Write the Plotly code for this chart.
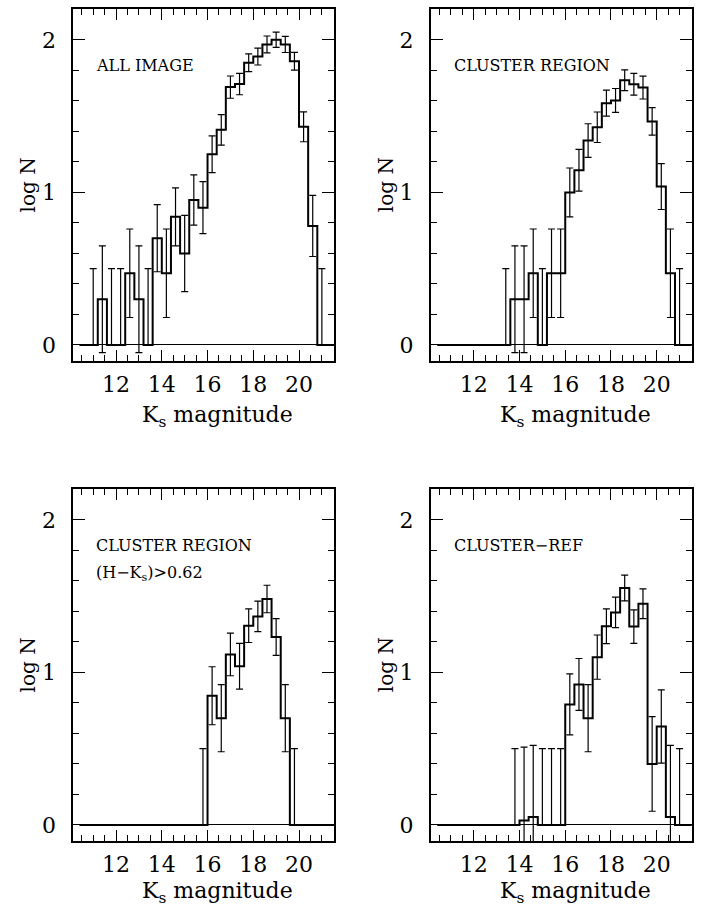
import plotly.graph_objects as go

# Ks bin centres (0.4 mag bins)
ks_bins = [10.6, 11.0, 11.4, 11.8, 12.2, 12.6, 13.0, 13.4, 13.8, 14.2,
           14.6, 15.0, 15.4, 15.8, 16.2, 16.6, 17.0, 17.4, 17.8, 18.2,
           18.6, 19.0, 19.4, 19.8, 20.2, 20.6, 21.0, 21.4]
bin_half = 0.2

# log N per bin and its error (None = no error bar drawn)
all_image_logn = [0, 0, 0.30, 0, 0, 0.47, 0.30, 0, 0.70, 0.47,
                  0.84, 0.60, 0.95, 0.90, 1.25, 1.41, 1.69, 1.71, 1.85, 1.89,
                  1.97, 2.00, 1.97, 1.86, 1.43, 0.78, 0, 0]
all_image_err = [None, 0.5, 0.35, 0.5, 0.5, 0.29, 0.35, 0.5, 0.22, 0.29,
                 0.19, 0.25, 0.165, 0.17, 0.12, 0.10, 0.073, 0.07, 0.058, 0.055,
                 0.055, 0.05, 0.053, 0.058, 0.098, 0.20, 0.5, None]

cluster_logn = [0, 0, 0, 0, 0, 0, 0, 0, 0.30, 0.30,
                0.47, 0, 0.47, 0.47, 1.00, 1.145, 1.34, 1.427, 1.585, 1.603,
                1.735, 1.709, 1.687, 1.465, 1.038, 0.47, 0, 0]
cluster_err = [None, None, None, None, None, None, None, 0.5, 0.35, 0.35,
               0.29, 0.5, 0.29, 0.29, 0.16, 0.137, 0.11, 0.10, 0.085, 0.078,
               0.068, 0.071, 0.075, 0.09, 0.15, 0.29, 0.5, None]

red_logn = [0, 0, 0, 0, 0, 0, 0, 0, 0, 0,
            0, 0, 0, 0, 0.847, 0.70, 1.118, 1.04, 1.306, 1.367,
            1.481, 1.232, 0.70, 0, 0, 0, 0, 0]
red_err = [None, None, None, None, None, None, None, None, None, None,
           None, None, None, 0.5, 0.19, 0.22, 0.14, 0.15, 0.11, 0.10,
           0.09, 0.12, 0.22, 0.5, None, None, None, None]

ref_logn = [0, 0, 0, 0, 0, 0, 0, 0, 0, 0.03,
            0.052, 0, 0, 0, 0.79, 0.921, 0.70, 1.10, 1.302, 1.393,
            1.553, 1.30, 1.45, 0.40, 0.646, 0.052, 0, 0]
ref_err = [None, None, None, None, None, None, None, None, 0.5, 0.48,
           0.47, 0.5, 0.5, 0.5, 0.20, 0.17, 0.22, 0.145, 0.114, 0.10,
           0.084, 0.11, 0.097, 0.31, 0.24, 0.47, 0.5, None]

panels = [
    (["ALL IMAGE"], all_image_logn, all_image_err),
    (["CLUSTER REGION"], cluster_logn, cluster_err),
    (["CLUSTER REGION", "(H\u2212K<sub>s</sub>)>0.62"], red_logn, red_err),
    (["CLUSTER\u2212REF"], ref_logn, ref_err),
]

W, H = 705, 908
x_doms = [(73.3, 334.0), (431.0, 691.7)]
y_doms = [(9.3, 361.0), (489.3, 841.0)]
title_gap = [56, 51]
x_range = [10.13, 21.53]
y_range = [-0.105, 2.2]

serif = "DejaVu Serif"
fig = go.Figure()
layout = dict(width=W, height=H, margin=dict(l=0, r=0, t=0, b=0),
              paper_bgcolor="white", plot_bgcolor="white", showlegend=False)
annotations = []

for i, (labels, logn, err) in enumerate(panels):
    row, col = divmod(i, 2)
    x0, x1 = x_doms[col]
    ytop, ybot = y_doms[row]
    n = i + 1
    xa = "xaxis" if n == 1 else f"xaxis{n}"
    ya = "yaxis" if n == 1 else f"yaxis{n}"
    xr = "x" if n == 1 else f"x{n}"
    yr = "y" if n == 1 else f"y{n}"

    axis_common = dict(showline=True, linecolor="black", linewidth=2,
                       mirror="allticks", ticks="inside", tickcolor="black",
                       tickwidth=1.3, showgrid=False,
                       tickfont=dict(family=serif, size=22, color="black"))
    layout[xa] = dict(axis_common, domain=[x0 / W, x1 / W], range=x_range,
                      anchor=yr, tickmode="linear", tick0=0, dtick=2,
                      ticklen=11, zeroline=False, ticklabelstandoff=3,
                      minor=dict(ticks="inside", tick0=0, dtick=0.5,
                                 ticklen=6, tickwidth=1.3, tickcolor="black",
                                 showgrid=False))
    layout[ya] = dict(axis_common, domain=[1 - ybot / H, 1 - ytop / H],
                      range=y_range, anchor=xr, tickmode="linear", tick0=0,
                      dtick=1, ticklen=12, zeroline=True, zerolinecolor="black",
                      zerolinewidth=1.2, ticklabelstandoff=11,
                      minor=dict(ticks="inside", tick0=0, dtick=0.2,
                                 ticklen=6, tickwidth=1.3, tickcolor="black",
                                 showgrid=False))

    # stepped histogram outline
    edges = [c - bin_half for c in ks_bins] + [ks_bins[-1] + bin_half]
    steps = list(logn) + [logn[-1]]
    fig.add_trace(go.Scatter(x=edges, y=steps, mode="lines",
                             line=dict(color="black", width=2, shape="hv"),
                             xaxis=xr, yaxis=yr, hoverinfo="skip"))

    # error bars (bins with no counts only get the upper half)
    ex, ey, eplus, eminus = [], [], [], []
    for c, v, e in zip(ks_bins, logn, err):
        if e is None:
            continue
        ex.append(c)
        ey.append(v)
        eplus.append(e)
        eminus.append(e if v > 0 else 0)
    fig.add_trace(go.Scatter(
        x=ex, y=ey, mode="markers",
        marker=dict(size=1, color="rgba(0,0,0,0)"),
        error_y=dict(type="data", symmetric=False, array=eplus,
                     arrayminus=eminus, color="black", thickness=1.2,
                     width=3.5),
        xaxis=xr, yaxis=yr, hoverinfo="skip"))

    # panel labels
    for k, txt in enumerate(labels):
        ypix = ytop + 56.2 + 28 * k
        annotations.append(dict(
            text=txt, xref=f"{xr} domain", yref=f"{yr} domain",
            x=21.0 / (x1 - x0), y=(ybot - ypix) / (ybot - ytop),
            xanchor="left", yanchor="middle", showarrow=False,
            font=dict(family=serif, size=16, color="black")))

    # axis titles
    annotations.append(dict(
        text="K<sub>s</sub> magnitude", xref="paper", yref="paper",
        x=((x0 + x1) / 2 + 14) / W, y=1 - (ybot + title_gap[row]) / H,
        xanchor="center", yanchor="middle", showarrow=False,
        font=dict(family=serif, size=22, color="black")))
    annotations.append(dict(
        text="log N", xref="paper", yref="paper",
        x=(x0 - 45) / W, y=1 - ((ytop + ybot) / 2) / H, textangle=-90,
        xanchor="center", yanchor="middle", showarrow=False,
        font=dict(family=serif, size=20, color="black")))

layout["annotations"] = annotations
fig.update_layout(**layout)
fig.write_html("out.html")
